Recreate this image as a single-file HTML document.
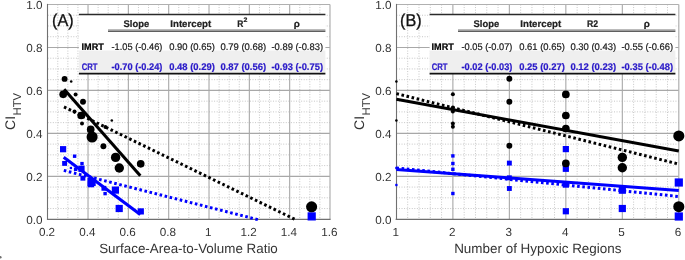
<!DOCTYPE html>
<html><head><meta charset="utf-8"><style>
html,body{margin:0;padding:0;background:#fff;width:685px;height:260px;overflow:hidden;}
svg{display:block;filter:blur(0.3px);font-family:"Liberation Sans",sans-serif;text-rendering:geometricPrecision;}
</style></head><body>
<svg width="685" height="260" viewBox="0 0 685 260">
<rect x="0" y="0" width="685" height="260" fill="#fff"/>
<line x1="57.78" y1="4.50" x2="57.78" y2="219.30" stroke="#c6c6c6" stroke-width="1" stroke-dasharray="1 1.56"/>
<line x1="67.86" y1="4.50" x2="67.86" y2="219.30" stroke="#c6c6c6" stroke-width="1" stroke-dasharray="1 1.56"/>
<line x1="77.95" y1="4.50" x2="77.95" y2="219.30" stroke="#c6c6c6" stroke-width="1" stroke-dasharray="1 1.56"/>
<line x1="98.11" y1="4.50" x2="98.11" y2="219.30" stroke="#c6c6c6" stroke-width="1" stroke-dasharray="1 1.56"/>
<line x1="108.19" y1="4.50" x2="108.19" y2="219.30" stroke="#c6c6c6" stroke-width="1" stroke-dasharray="1 1.56"/>
<line x1="118.28" y1="4.50" x2="118.28" y2="219.30" stroke="#c6c6c6" stroke-width="1" stroke-dasharray="1 1.56"/>
<line x1="138.44" y1="4.50" x2="138.44" y2="219.30" stroke="#c6c6c6" stroke-width="1" stroke-dasharray="1 1.56"/>
<line x1="148.52" y1="4.50" x2="148.52" y2="219.30" stroke="#c6c6c6" stroke-width="1" stroke-dasharray="1 1.56"/>
<line x1="158.60" y1="4.50" x2="158.60" y2="219.30" stroke="#c6c6c6" stroke-width="1" stroke-dasharray="1 1.56"/>
<line x1="178.77" y1="4.50" x2="178.77" y2="219.30" stroke="#c6c6c6" stroke-width="1" stroke-dasharray="1 1.56"/>
<line x1="188.85" y1="4.50" x2="188.85" y2="219.30" stroke="#c6c6c6" stroke-width="1" stroke-dasharray="1 1.56"/>
<line x1="198.93" y1="4.50" x2="198.93" y2="219.30" stroke="#c6c6c6" stroke-width="1" stroke-dasharray="1 1.56"/>
<line x1="219.10" y1="4.50" x2="219.10" y2="219.30" stroke="#c6c6c6" stroke-width="1" stroke-dasharray="1 1.56"/>
<line x1="229.18" y1="4.50" x2="229.18" y2="219.30" stroke="#c6c6c6" stroke-width="1" stroke-dasharray="1 1.56"/>
<line x1="239.26" y1="4.50" x2="239.26" y2="219.30" stroke="#c6c6c6" stroke-width="1" stroke-dasharray="1 1.56"/>
<line x1="259.43" y1="4.50" x2="259.43" y2="219.30" stroke="#c6c6c6" stroke-width="1" stroke-dasharray="1 1.56"/>
<line x1="269.51" y1="4.50" x2="269.51" y2="219.30" stroke="#c6c6c6" stroke-width="1" stroke-dasharray="1 1.56"/>
<line x1="279.59" y1="4.50" x2="279.59" y2="219.30" stroke="#c6c6c6" stroke-width="1" stroke-dasharray="1 1.56"/>
<line x1="299.75" y1="4.50" x2="299.75" y2="219.30" stroke="#c6c6c6" stroke-width="1" stroke-dasharray="1 1.56"/>
<line x1="309.84" y1="4.50" x2="309.84" y2="219.30" stroke="#c6c6c6" stroke-width="1" stroke-dasharray="1 1.56"/>
<line x1="319.92" y1="4.50" x2="319.92" y2="219.30" stroke="#c6c6c6" stroke-width="1" stroke-dasharray="1 1.56"/>
<line x1="47.70" y1="208.56" x2="330.00" y2="208.56" stroke="#c6c6c6" stroke-width="1" stroke-dasharray="1 1.56"/>
<line x1="47.70" y1="197.82" x2="330.00" y2="197.82" stroke="#c6c6c6" stroke-width="1" stroke-dasharray="1 1.56"/>
<line x1="47.70" y1="187.08" x2="330.00" y2="187.08" stroke="#c6c6c6" stroke-width="1" stroke-dasharray="1 1.56"/>
<line x1="47.70" y1="165.60" x2="330.00" y2="165.60" stroke="#c6c6c6" stroke-width="1" stroke-dasharray="1 1.56"/>
<line x1="47.70" y1="154.86" x2="330.00" y2="154.86" stroke="#c6c6c6" stroke-width="1" stroke-dasharray="1 1.56"/>
<line x1="47.70" y1="144.12" x2="330.00" y2="144.12" stroke="#c6c6c6" stroke-width="1" stroke-dasharray="1 1.56"/>
<line x1="47.70" y1="122.64" x2="330.00" y2="122.64" stroke="#c6c6c6" stroke-width="1" stroke-dasharray="1 1.56"/>
<line x1="47.70" y1="111.90" x2="330.00" y2="111.90" stroke="#c6c6c6" stroke-width="1" stroke-dasharray="1 1.56"/>
<line x1="47.70" y1="101.16" x2="330.00" y2="101.16" stroke="#c6c6c6" stroke-width="1" stroke-dasharray="1 1.56"/>
<line x1="47.70" y1="79.68" x2="330.00" y2="79.68" stroke="#c6c6c6" stroke-width="1" stroke-dasharray="1 1.56"/>
<line x1="47.70" y1="68.94" x2="330.00" y2="68.94" stroke="#c6c6c6" stroke-width="1" stroke-dasharray="1 1.56"/>
<line x1="47.70" y1="58.20" x2="330.00" y2="58.20" stroke="#c6c6c6" stroke-width="1" stroke-dasharray="1 1.56"/>
<line x1="47.70" y1="36.72" x2="330.00" y2="36.72" stroke="#c6c6c6" stroke-width="1" stroke-dasharray="1 1.56"/>
<line x1="47.70" y1="25.98" x2="330.00" y2="25.98" stroke="#c6c6c6" stroke-width="1" stroke-dasharray="1 1.56"/>
<line x1="47.70" y1="15.24" x2="330.00" y2="15.24" stroke="#c6c6c6" stroke-width="1" stroke-dasharray="1 1.56"/>
<line x1="88.03" y1="4.50" x2="88.03" y2="219.30" stroke="#a8a8a8" stroke-width="1.1"/>
<line x1="128.36" y1="4.50" x2="128.36" y2="219.30" stroke="#a8a8a8" stroke-width="1.1"/>
<line x1="168.69" y1="4.50" x2="168.69" y2="219.30" stroke="#a8a8a8" stroke-width="1.1"/>
<line x1="209.01" y1="4.50" x2="209.01" y2="219.30" stroke="#a8a8a8" stroke-width="1.1"/>
<line x1="249.34" y1="4.50" x2="249.34" y2="219.30" stroke="#a8a8a8" stroke-width="1.1"/>
<line x1="289.67" y1="4.50" x2="289.67" y2="219.30" stroke="#a8a8a8" stroke-width="1.1"/>
<line x1="47.70" y1="176.34" x2="330.00" y2="176.34" stroke="#a8a8a8" stroke-width="1.1"/>
<line x1="47.70" y1="133.38" x2="330.00" y2="133.38" stroke="#a8a8a8" stroke-width="1.1"/>
<line x1="47.70" y1="90.42" x2="330.00" y2="90.42" stroke="#a8a8a8" stroke-width="1.1"/>
<line x1="47.70" y1="47.46" x2="330.00" y2="47.46" stroke="#a8a8a8" stroke-width="1.1"/>
<line x1="407.70" y1="4.50" x2="407.70" y2="219.30" stroke="#c6c6c6" stroke-width="1" stroke-dasharray="1 1.56"/>
<line x1="418.99" y1="4.50" x2="418.99" y2="219.30" stroke="#c6c6c6" stroke-width="1" stroke-dasharray="1 1.56"/>
<line x1="430.29" y1="4.50" x2="430.29" y2="219.30" stroke="#c6c6c6" stroke-width="1" stroke-dasharray="1 1.56"/>
<line x1="441.58" y1="4.50" x2="441.58" y2="219.30" stroke="#c6c6c6" stroke-width="1" stroke-dasharray="1 1.56"/>
<line x1="464.18" y1="4.50" x2="464.18" y2="219.30" stroke="#c6c6c6" stroke-width="1" stroke-dasharray="1 1.56"/>
<line x1="475.47" y1="4.50" x2="475.47" y2="219.30" stroke="#c6c6c6" stroke-width="1" stroke-dasharray="1 1.56"/>
<line x1="486.77" y1="4.50" x2="486.77" y2="219.30" stroke="#c6c6c6" stroke-width="1" stroke-dasharray="1 1.56"/>
<line x1="498.06" y1="4.50" x2="498.06" y2="219.30" stroke="#c6c6c6" stroke-width="1" stroke-dasharray="1 1.56"/>
<line x1="520.66" y1="4.50" x2="520.66" y2="219.30" stroke="#c6c6c6" stroke-width="1" stroke-dasharray="1 1.56"/>
<line x1="531.95" y1="4.50" x2="531.95" y2="219.30" stroke="#c6c6c6" stroke-width="1" stroke-dasharray="1 1.56"/>
<line x1="543.25" y1="4.50" x2="543.25" y2="219.30" stroke="#c6c6c6" stroke-width="1" stroke-dasharray="1 1.56"/>
<line x1="554.54" y1="4.50" x2="554.54" y2="219.30" stroke="#c6c6c6" stroke-width="1" stroke-dasharray="1 1.56"/>
<line x1="577.14" y1="4.50" x2="577.14" y2="219.30" stroke="#c6c6c6" stroke-width="1" stroke-dasharray="1 1.56"/>
<line x1="588.43" y1="4.50" x2="588.43" y2="219.30" stroke="#c6c6c6" stroke-width="1" stroke-dasharray="1 1.56"/>
<line x1="599.73" y1="4.50" x2="599.73" y2="219.30" stroke="#c6c6c6" stroke-width="1" stroke-dasharray="1 1.56"/>
<line x1="611.02" y1="4.50" x2="611.02" y2="219.30" stroke="#c6c6c6" stroke-width="1" stroke-dasharray="1 1.56"/>
<line x1="633.62" y1="4.50" x2="633.62" y2="219.30" stroke="#c6c6c6" stroke-width="1" stroke-dasharray="1 1.56"/>
<line x1="644.91" y1="4.50" x2="644.91" y2="219.30" stroke="#c6c6c6" stroke-width="1" stroke-dasharray="1 1.56"/>
<line x1="656.21" y1="4.50" x2="656.21" y2="219.30" stroke="#c6c6c6" stroke-width="1" stroke-dasharray="1 1.56"/>
<line x1="667.50" y1="4.50" x2="667.50" y2="219.30" stroke="#c6c6c6" stroke-width="1" stroke-dasharray="1 1.56"/>
<line x1="396.40" y1="208.56" x2="678.80" y2="208.56" stroke="#c6c6c6" stroke-width="1" stroke-dasharray="1 1.56"/>
<line x1="396.40" y1="197.82" x2="678.80" y2="197.82" stroke="#c6c6c6" stroke-width="1" stroke-dasharray="1 1.56"/>
<line x1="396.40" y1="187.08" x2="678.80" y2="187.08" stroke="#c6c6c6" stroke-width="1" stroke-dasharray="1 1.56"/>
<line x1="396.40" y1="165.60" x2="678.80" y2="165.60" stroke="#c6c6c6" stroke-width="1" stroke-dasharray="1 1.56"/>
<line x1="396.40" y1="154.86" x2="678.80" y2="154.86" stroke="#c6c6c6" stroke-width="1" stroke-dasharray="1 1.56"/>
<line x1="396.40" y1="144.12" x2="678.80" y2="144.12" stroke="#c6c6c6" stroke-width="1" stroke-dasharray="1 1.56"/>
<line x1="396.40" y1="122.64" x2="678.80" y2="122.64" stroke="#c6c6c6" stroke-width="1" stroke-dasharray="1 1.56"/>
<line x1="396.40" y1="111.90" x2="678.80" y2="111.90" stroke="#c6c6c6" stroke-width="1" stroke-dasharray="1 1.56"/>
<line x1="396.40" y1="101.16" x2="678.80" y2="101.16" stroke="#c6c6c6" stroke-width="1" stroke-dasharray="1 1.56"/>
<line x1="396.40" y1="79.68" x2="678.80" y2="79.68" stroke="#c6c6c6" stroke-width="1" stroke-dasharray="1 1.56"/>
<line x1="396.40" y1="68.94" x2="678.80" y2="68.94" stroke="#c6c6c6" stroke-width="1" stroke-dasharray="1 1.56"/>
<line x1="396.40" y1="58.20" x2="678.80" y2="58.20" stroke="#c6c6c6" stroke-width="1" stroke-dasharray="1 1.56"/>
<line x1="396.40" y1="36.72" x2="678.80" y2="36.72" stroke="#c6c6c6" stroke-width="1" stroke-dasharray="1 1.56"/>
<line x1="396.40" y1="25.98" x2="678.80" y2="25.98" stroke="#c6c6c6" stroke-width="1" stroke-dasharray="1 1.56"/>
<line x1="396.40" y1="15.24" x2="678.80" y2="15.24" stroke="#c6c6c6" stroke-width="1" stroke-dasharray="1 1.56"/>
<line x1="452.88" y1="4.50" x2="452.88" y2="219.30" stroke="#a8a8a8" stroke-width="1.1"/>
<line x1="509.36" y1="4.50" x2="509.36" y2="219.30" stroke="#a8a8a8" stroke-width="1.1"/>
<line x1="565.84" y1="4.50" x2="565.84" y2="219.30" stroke="#a8a8a8" stroke-width="1.1"/>
<line x1="622.32" y1="4.50" x2="622.32" y2="219.30" stroke="#a8a8a8" stroke-width="1.1"/>
<line x1="396.40" y1="176.34" x2="678.80" y2="176.34" stroke="#a8a8a8" stroke-width="1.1"/>
<line x1="396.40" y1="133.38" x2="678.80" y2="133.38" stroke="#a8a8a8" stroke-width="1.1"/>
<line x1="396.40" y1="90.42" x2="678.80" y2="90.42" stroke="#a8a8a8" stroke-width="1.1"/>
<line x1="396.40" y1="47.46" x2="678.80" y2="47.46" stroke="#a8a8a8" stroke-width="1.1"/>
<line x1="47.70" y1="4.50" x2="330.00" y2="4.50" stroke="#b0b0b0" stroke-width="1.2"/>
<line x1="330.00" y1="4.50" x2="330.00" y2="219.30" stroke="#b0b0b0" stroke-width="1.2"/>
<line x1="47.50" y1="3.90" x2="47.50" y2="219.85" stroke="#707070" stroke-width="1.1"/>
<line x1="46.95" y1="219.30" x2="330.60" y2="219.30" stroke="#707070" stroke-width="1.2"/>
<line x1="396.40" y1="4.50" x2="678.80" y2="4.50" stroke="#b0b0b0" stroke-width="1.2"/>
<line x1="678.80" y1="4.50" x2="678.80" y2="219.30" stroke="#b0b0b0" stroke-width="1.2"/>
<line x1="396.50" y1="3.90" x2="396.50" y2="219.85" stroke="#707070" stroke-width="1.1"/>
<line x1="395.65" y1="219.30" x2="679.40" y2="219.30" stroke="#707070" stroke-width="1.2"/>
<text x="42.40" y="223.60" font-family="Liberation Sans, sans-serif" font-size="11.7" fill="#333333" text-anchor="end">0.0</text>
<text x="42.40" y="180.64" font-family="Liberation Sans, sans-serif" font-size="11.7" fill="#333333" text-anchor="end">0.2</text>
<text x="42.40" y="137.68" font-family="Liberation Sans, sans-serif" font-size="11.7" fill="#333333" text-anchor="end">0.4</text>
<text x="42.40" y="94.72" font-family="Liberation Sans, sans-serif" font-size="11.7" fill="#333333" text-anchor="end">0.6</text>
<text x="42.40" y="51.76" font-family="Liberation Sans, sans-serif" font-size="11.7" fill="#333333" text-anchor="end">0.8</text>
<text x="42.40" y="8.80" font-family="Liberation Sans, sans-serif" font-size="11.7" fill="#333333" text-anchor="end">1.0</text>
<text x="391.50" y="223.60" font-family="Liberation Sans, sans-serif" font-size="11.7" fill="#333333" text-anchor="end">0.0</text>
<text x="391.50" y="180.64" font-family="Liberation Sans, sans-serif" font-size="11.7" fill="#333333" text-anchor="end">0.2</text>
<text x="391.50" y="137.68" font-family="Liberation Sans, sans-serif" font-size="11.7" fill="#333333" text-anchor="end">0.4</text>
<text x="391.50" y="94.72" font-family="Liberation Sans, sans-serif" font-size="11.7" fill="#333333" text-anchor="end">0.6</text>
<text x="391.50" y="51.76" font-family="Liberation Sans, sans-serif" font-size="11.7" fill="#333333" text-anchor="end">0.8</text>
<text x="391.50" y="8.80" font-family="Liberation Sans, sans-serif" font-size="11.7" fill="#333333" text-anchor="end">1.0</text>
<text x="47.00" y="236" font-family="Liberation Sans, sans-serif" font-size="11.7" fill="#333333" text-anchor="middle">0.2</text>
<text x="87.33" y="236" font-family="Liberation Sans, sans-serif" font-size="11.7" fill="#333333" text-anchor="middle">0.4</text>
<text x="127.66" y="236" font-family="Liberation Sans, sans-serif" font-size="11.7" fill="#333333" text-anchor="middle">0.6</text>
<text x="167.99" y="236" font-family="Liberation Sans, sans-serif" font-size="11.7" fill="#333333" text-anchor="middle">0.8</text>
<text x="208.31" y="236" font-family="Liberation Sans, sans-serif" font-size="11.7" fill="#333333" text-anchor="middle">1</text>
<text x="248.64" y="236" font-family="Liberation Sans, sans-serif" font-size="11.7" fill="#333333" text-anchor="middle">1.2</text>
<text x="288.97" y="236" font-family="Liberation Sans, sans-serif" font-size="11.7" fill="#333333" text-anchor="middle">1.4</text>
<text x="329.30" y="236" font-family="Liberation Sans, sans-serif" font-size="11.7" fill="#333333" text-anchor="middle">1.6</text>
<text x="395.70" y="236" font-family="Liberation Sans, sans-serif" font-size="11.7" fill="#333333" text-anchor="middle">1</text>
<text x="452.18" y="236" font-family="Liberation Sans, sans-serif" font-size="11.7" fill="#333333" text-anchor="middle">2</text>
<text x="508.66" y="236" font-family="Liberation Sans, sans-serif" font-size="11.7" fill="#333333" text-anchor="middle">3</text>
<text x="565.14" y="236" font-family="Liberation Sans, sans-serif" font-size="11.7" fill="#333333" text-anchor="middle">4</text>
<text x="621.62" y="236" font-family="Liberation Sans, sans-serif" font-size="11.7" fill="#333333" text-anchor="middle">5</text>
<text x="678.10" y="236" font-family="Liberation Sans, sans-serif" font-size="11.7" fill="#333333" text-anchor="middle">6</text>
<text x="188.50" y="253.2" font-family="Liberation Sans, sans-serif" font-size="13.4" fill="#333333" text-anchor="middle">Surface-Area-to-Volume Ratio</text>
<text x="537.80" y="253.0" font-family="Liberation Sans, sans-serif" font-size="13.45" fill="#333333" text-anchor="middle">Number of Hypoxic Regions</text>
<g transform="translate(14.5,129.9) rotate(-90)"><text x="0" y="0" font-family="Liberation Sans, sans-serif" font-size="13.9" fill="#333333">CI<tspan font-size="11.3" dy="6.5" dx="0.5">HTV</tspan></text></g>
<g transform="translate(363.5,129.9) rotate(-90)"><text x="0" y="0" font-family="Liberation Sans, sans-serif" font-size="13.9" fill="#333333">CI<tspan font-size="11.3" dy="6.5" dx="0.5">HTV</tspan></text></g>
<text x="52.0" y="25.8" font-family="Liberation Sans, sans-serif" font-size="17.2" fill="#111" stroke="#111" stroke-width="0.3" textLength="21.6" lengthAdjust="spacingAndGlyphs">(A)</text>
<text x="400.0" y="25.8" font-family="Liberation Sans, sans-serif" font-size="17.2" fill="#111" stroke="#111" stroke-width="0.3" textLength="21.6" lengthAdjust="spacingAndGlyphs">(B)</text>
<rect x="78.90" y="14" width="246.50" height="59.5" fill="#fff"/>
<rect x="78.90" y="50.5" width="246.50" height="22.2" fill="#efefef"/>
<line x1="78.90" y1="14.5" x2="325.40" y2="14.5" stroke="#2a2a2a" stroke-width="1.5"/>
<rect x="108.00" y="29.1" width="217.40" height="1.6" fill="#b4b4b4"/>
<rect x="108.00" y="30.7" width="217.40" height="1.1" fill="#383838"/>
<line x1="78.90" y1="73.6" x2="325.40" y2="73.6" stroke="#111" stroke-width="1.7"/>
<text x="123.60" y="27.10" font-family="Liberation Sans, sans-serif" font-size="9.6" font-weight="bold" fill="#222" stroke="#222" stroke-width="0.22" textLength="25.60" lengthAdjust="spacingAndGlyphs">Slope</text>
<text x="170.30" y="27.10" font-family="Liberation Sans, sans-serif" font-size="9.6" font-weight="bold" fill="#222" stroke="#222" stroke-width="0.22" textLength="40.90" lengthAdjust="spacingAndGlyphs">Intercept</text>
<text x="293.80" y="27.10" font-family="Liberation Sans, sans-serif" font-size="9.6" font-weight="bold" fill="#222" stroke="#222" stroke-width="0.22" textLength="6.10" lengthAdjust="spacingAndGlyphs">ρ</text>
<text x="81.50" y="49.50" font-family="Liberation Sans, sans-serif" font-size="9.6" font-weight="bold" fill="#000" stroke="#000" stroke-width="0.22" textLength="22.30" lengthAdjust="spacingAndGlyphs">IMRT</text>
<text x="81.70" y="70.40" font-family="Liberation Sans, sans-serif" font-size="9.6" font-weight="bold" fill="#2a1ac8" stroke="#2a1ac8" stroke-width="0.22" textLength="15.80" lengthAdjust="spacingAndGlyphs">CRT</text>
<text x="111.50" y="49.50" font-family="Liberation Sans, sans-serif" font-size="9.6" fill="#222" stroke="#222" stroke-width="0.22" textLength="50.90" lengthAdjust="spacingAndGlyphs">-1.05 (-0.46)</text>
<text x="169.20" y="49.50" font-family="Liberation Sans, sans-serif" font-size="9.6" fill="#222" stroke="#222" stroke-width="0.22" textLength="45.60" lengthAdjust="spacingAndGlyphs">0.90 (0.65)</text>
<text x="220.40" y="49.50" font-family="Liberation Sans, sans-serif" font-size="9.6" fill="#222" stroke="#222" stroke-width="0.22" textLength="45.80" lengthAdjust="spacingAndGlyphs">0.79 (0.68)</text>
<text x="271.50" y="49.50" font-family="Liberation Sans, sans-serif" font-size="9.6" fill="#222" stroke="#222" stroke-width="0.22" textLength="51.50" lengthAdjust="spacingAndGlyphs">-0.89 (-0.83)</text>
<text x="111.50" y="70.40" font-family="Liberation Sans, sans-serif" font-size="9.6" font-weight="bold" fill="#2a1ac8" stroke="#2a1ac8" stroke-width="0.22" textLength="50.90" lengthAdjust="spacingAndGlyphs">-0.70 (-0.24)</text>
<text x="169.20" y="70.40" font-family="Liberation Sans, sans-serif" font-size="9.6" font-weight="bold" fill="#2a1ac8" stroke="#2a1ac8" stroke-width="0.22" textLength="45.60" lengthAdjust="spacingAndGlyphs">0.48 (0.29)</text>
<text x="220.40" y="70.40" font-family="Liberation Sans, sans-serif" font-size="9.6" font-weight="bold" fill="#2a1ac8" stroke="#2a1ac8" stroke-width="0.22" textLength="45.80" lengthAdjust="spacingAndGlyphs">0.87 (0.56)</text>
<text x="271.50" y="70.40" font-family="Liberation Sans, sans-serif" font-size="9.6" font-weight="bold" fill="#2a1ac8" stroke="#2a1ac8" stroke-width="0.22" textLength="51.50" lengthAdjust="spacingAndGlyphs">-0.93 (-0.75)</text>
<rect x="429.60" y="14" width="245.80" height="59.5" fill="#fff"/>
<rect x="429.60" y="50.5" width="245.80" height="22.2" fill="#efefef"/>
<line x1="429.60" y1="14.5" x2="675.40" y2="14.5" stroke="#2a2a2a" stroke-width="1.5"/>
<rect x="458.00" y="29.1" width="217.40" height="1.6" fill="#b4b4b4"/>
<rect x="458.00" y="30.7" width="217.40" height="1.1" fill="#383838"/>
<line x1="429.60" y1="73.6" x2="675.40" y2="73.6" stroke="#111" stroke-width="1.7"/>
<text x="473.60" y="27.10" font-family="Liberation Sans, sans-serif" font-size="9.6" font-weight="bold" fill="#222" stroke="#222" stroke-width="0.22" textLength="25.60" lengthAdjust="spacingAndGlyphs">Slope</text>
<text x="520.30" y="27.10" font-family="Liberation Sans, sans-serif" font-size="9.6" font-weight="bold" fill="#222" stroke="#222" stroke-width="0.22" textLength="40.90" lengthAdjust="spacingAndGlyphs">Intercept</text>
<text x="643.80" y="27.10" font-family="Liberation Sans, sans-serif" font-size="9.6" font-weight="bold" fill="#222" stroke="#222" stroke-width="0.22" textLength="6.10" lengthAdjust="spacingAndGlyphs">ρ</text>
<text x="431.50" y="49.50" font-family="Liberation Sans, sans-serif" font-size="9.6" font-weight="bold" fill="#000" stroke="#000" stroke-width="0.22" textLength="22.30" lengthAdjust="spacingAndGlyphs">IMRT</text>
<text x="431.70" y="70.40" font-family="Liberation Sans, sans-serif" font-size="9.6" font-weight="bold" fill="#2a1ac8" stroke="#2a1ac8" stroke-width="0.22" textLength="15.80" lengthAdjust="spacingAndGlyphs">CRT</text>
<text x="461.50" y="49.50" font-family="Liberation Sans, sans-serif" font-size="9.6" fill="#222" stroke="#222" stroke-width="0.22" textLength="50.90" lengthAdjust="spacingAndGlyphs">-0.05 (-0.07)</text>
<text x="519.20" y="49.50" font-family="Liberation Sans, sans-serif" font-size="9.6" fill="#222" stroke="#222" stroke-width="0.22" textLength="45.60" lengthAdjust="spacingAndGlyphs">0.61 (0.65)</text>
<text x="570.40" y="49.50" font-family="Liberation Sans, sans-serif" font-size="9.6" fill="#222" stroke="#222" stroke-width="0.22" textLength="45.80" lengthAdjust="spacingAndGlyphs">0.30 (0.43)</text>
<text x="621.50" y="49.50" font-family="Liberation Sans, sans-serif" font-size="9.6" fill="#222" stroke="#222" stroke-width="0.22" textLength="51.50" lengthAdjust="spacingAndGlyphs">-0.55 (-0.66)</text>
<text x="461.50" y="70.40" font-family="Liberation Sans, sans-serif" font-size="9.6" font-weight="bold" fill="#2a1ac8" stroke="#2a1ac8" stroke-width="0.22" textLength="50.90" lengthAdjust="spacingAndGlyphs">-0.02 (-0.03)</text>
<text x="519.20" y="70.40" font-family="Liberation Sans, sans-serif" font-size="9.6" font-weight="bold" fill="#2a1ac8" stroke="#2a1ac8" stroke-width="0.22" textLength="45.60" lengthAdjust="spacingAndGlyphs">0.25 (0.27)</text>
<text x="570.40" y="70.40" font-family="Liberation Sans, sans-serif" font-size="9.6" font-weight="bold" fill="#2a1ac8" stroke="#2a1ac8" stroke-width="0.22" textLength="45.80" lengthAdjust="spacingAndGlyphs">0.12 (0.23)</text>
<text x="621.50" y="70.40" font-family="Liberation Sans, sans-serif" font-size="9.6" font-weight="bold" fill="#2a1ac8" stroke="#2a1ac8" stroke-width="0.22" textLength="51.50" lengthAdjust="spacingAndGlyphs">-0.35 (-0.48)</text>
<text x="237.30" y="27.10" font-family="Liberation Sans, sans-serif" font-size="9.6" font-weight="bold" fill="#222" stroke="#222" stroke-width="0.22" textLength="6.10" lengthAdjust="spacingAndGlyphs">R</text>
<text x="243.50" y="22.10" font-family="Liberation Sans, sans-serif" font-size="6.5" font-weight="bold" fill="#222" stroke="#222" stroke-width="0.22" textLength="3.90" lengthAdjust="spacingAndGlyphs">2</text>
<text x="586.90" y="27.10" font-family="Liberation Sans, sans-serif" font-size="9.6" font-weight="bold" fill="#222" stroke="#222" stroke-width="0.22" textLength="11.10" lengthAdjust="spacingAndGlyphs">R2</text>
<rect x="60.00" y="146.10" width="6.20" height="6.20" fill="#0000ff"/>
<rect x="72.90" y="154.50" width="3.40" height="3.40" fill="#0000ff"/>
<rect x="62.15" y="160.95" width="4.90" height="4.90" fill="#0000ff"/>
<rect x="80.30" y="161.90" width="3.40" height="3.40" fill="#0000ff"/>
<rect x="69.75" y="166.85" width="2.30" height="2.30" fill="#0000ff"/>
<rect x="78.40" y="165.70" width="6.20" height="6.20" fill="#0000ff"/>
<rect x="73.90" y="167.60" width="3.40" height="3.40" fill="#0000ff"/>
<rect x="80.45" y="175.75" width="4.90" height="4.90" fill="#0000ff"/>
<rect x="87.80" y="181.10" width="6.20" height="6.20" fill="#0000ff"/>
<rect x="87.50" y="177.90" width="8.20" height="8.20" fill="#0000ff"/>
<rect x="101.45" y="185.85" width="4.90" height="4.90" fill="#0000ff"/>
<rect x="103.40" y="191.90" width="3.40" height="3.40" fill="#0000ff"/>
<rect x="111.80" y="186.50" width="7.20" height="7.20" fill="#0000ff"/>
<rect x="115.60" y="204.90" width="7.20" height="7.20" fill="#0000ff"/>
<rect x="137.70" y="208.30" width="6.20" height="6.20" fill="#0000ff"/>
<rect x="307.60" y="212.30" width="8.20" height="8.20" fill="#0000ff"/>
<circle cx="64.60" cy="78.90" r="2.95" fill="#000"/>
<circle cx="71.20" cy="81.50" r="1.30" fill="#000"/>
<circle cx="63.20" cy="94.30" r="3.85" fill="#000"/>
<circle cx="75.60" cy="94.50" r="2.00" fill="#000"/>
<circle cx="83.00" cy="101.80" r="2.95" fill="#000"/>
<circle cx="74.50" cy="111.40" r="2.00" fill="#000"/>
<circle cx="81.20" cy="115.50" r="3.85" fill="#000"/>
<circle cx="82.00" cy="123.50" r="2.00" fill="#000"/>
<circle cx="111.80" cy="120.50" r="1.30" fill="#000"/>
<circle cx="105.40" cy="127.00" r="2.00" fill="#000"/>
<circle cx="90.70" cy="129.40" r="3.85" fill="#000"/>
<circle cx="92.10" cy="137.00" r="5.55" fill="#000"/>
<circle cx="103.40" cy="146.20" r="2.95" fill="#000"/>
<circle cx="115.60" cy="157.40" r="4.70" fill="#000"/>
<circle cx="119.30" cy="168.00" r="4.70" fill="#000"/>
<circle cx="140.70" cy="163.80" r="3.85" fill="#000"/>
<circle cx="311.60" cy="206.80" r="5.55" fill="#000"/>
<rect x="395.25" y="166.85" width="2.30" height="2.30" fill="#0000ff"/>
<rect x="395.25" y="183.85" width="2.30" height="2.30" fill="#0000ff"/>
<rect x="451.18" y="154.20" width="3.40" height="3.40" fill="#0000ff"/>
<rect x="451.18" y="161.80" width="3.40" height="3.40" fill="#0000ff"/>
<rect x="451.18" y="167.60" width="3.40" height="3.40" fill="#0000ff"/>
<rect x="451.18" y="191.80" width="3.40" height="3.40" fill="#0000ff"/>
<rect x="506.91" y="160.65" width="4.90" height="4.90" fill="#0000ff"/>
<rect x="506.91" y="175.35" width="4.90" height="4.90" fill="#0000ff"/>
<rect x="506.91" y="186.05" width="4.90" height="4.90" fill="#0000ff"/>
<rect x="562.74" y="146.00" width="6.20" height="6.20" fill="#0000ff"/>
<rect x="562.74" y="165.70" width="6.20" height="6.20" fill="#0000ff"/>
<rect x="562.74" y="181.50" width="6.20" height="6.20" fill="#0000ff"/>
<rect x="562.74" y="208.15" width="6.20" height="6.20" fill="#0000ff"/>
<rect x="618.72" y="186.60" width="7.20" height="7.20" fill="#0000ff"/>
<rect x="618.72" y="204.90" width="7.20" height="7.20" fill="#0000ff"/>
<rect x="674.70" y="178.40" width="8.20" height="8.20" fill="#0000ff"/>
<rect x="674.70" y="212.40" width="8.20" height="8.20" fill="#0000ff"/>
<circle cx="396.40" cy="81.50" r="1.30" fill="#000"/>
<circle cx="396.40" cy="120.50" r="1.30" fill="#000"/>
<circle cx="452.88" cy="94.30" r="2.00" fill="#000"/>
<circle cx="452.88" cy="107.60" r="2.00" fill="#000"/>
<circle cx="452.88" cy="111.40" r="2.00" fill="#000"/>
<circle cx="452.88" cy="123.40" r="2.00" fill="#000"/>
<circle cx="452.88" cy="126.80" r="2.00" fill="#000"/>
<circle cx="509.36" cy="78.70" r="2.95" fill="#000"/>
<circle cx="509.36" cy="101.80" r="2.95" fill="#000"/>
<circle cx="509.36" cy="145.80" r="2.95" fill="#000"/>
<circle cx="565.84" cy="94.40" r="3.85" fill="#000"/>
<circle cx="565.84" cy="115.50" r="3.85" fill="#000"/>
<circle cx="565.84" cy="128.50" r="3.85" fill="#000"/>
<circle cx="565.84" cy="163.40" r="3.85" fill="#000"/>
<circle cx="622.32" cy="157.40" r="4.70" fill="#000"/>
<circle cx="622.32" cy="167.80" r="4.70" fill="#000"/>
<circle cx="678.80" cy="135.95" r="5.55" fill="#000"/>
<circle cx="678.80" cy="206.70" r="5.55" fill="#000"/>
<line x1="64.10" y1="89.30" x2="140.30" y2="175.80" stroke="#000" stroke-width="3.1"/>
<line x1="64.00" y1="106.90" x2="294.60" y2="219.20" stroke="#000" stroke-width="3.0" stroke-dasharray="2.59 2.59"/>
<line x1="63.70" y1="157.20" x2="140.30" y2="214.40" stroke="#0000ff" stroke-width="3.1"/>
<line x1="63.80" y1="170.40" x2="258.00" y2="219.65" stroke="#0000ff" stroke-width="3.0" stroke-dasharray="2.6 2.6"/>
<line x1="396.40" y1="99.30" x2="678.80" y2="151.00" stroke="#000" stroke-width="3.1"/>
<line x1="396.40" y1="93.65" x2="678.80" y2="164.10" stroke="#000" stroke-width="3.0" stroke-dasharray="2.605 2.605"/>
<line x1="396.40" y1="169.50" x2="678.80" y2="190.50" stroke="#0000ff" stroke-width="3.1"/>
<line x1="396.40" y1="167.90" x2="678.80" y2="196.50" stroke="#0000ff" stroke-width="3.0" stroke-dasharray="2.595 2.595"/>
<circle cx="0.3" cy="257.2" r="1.3" fill="#707070"/>
</svg>
</body></html>
